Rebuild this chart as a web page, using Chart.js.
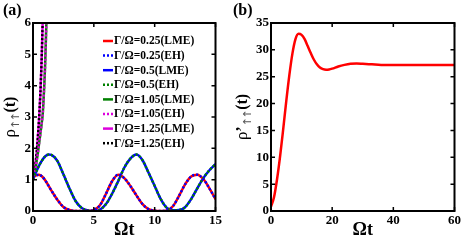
<!DOCTYPE html>
<html>
<head>
<meta charset="utf-8">
<script src="https://cdn.jsdelivr.net/npm/chart.js@4.4.1/dist/chart.umd.min.js"></script>
<style>
  html, body { margin: 0; padding: 0; background: #fff; }
  #wrap { position: relative; width: 463px; height: 241px; overflow: hidden; }
  canvas { position: absolute; top: 0; }
</style>
</head>
<body>
<div id="wrap">
  <canvas id="chartA" width="224" height="241" style="left:0px"></canvas>
  <canvas id="chartB" width="231" height="241" style="left:232px"></canvas>
</div>
<script>
// panel (a): rho_up,up(t) for several Gamma/Omega
const legendLabels = [
  'Γ/Ω=0.25(LME)', 'Γ/Ω=0.25(EH)',
  'Γ/Ω=0.5(LME)', 'Γ/Ω=0.5(EH)',
  'Γ/Ω=1.05(LME)', 'Γ/Ω=1.05(EH)',
  'Γ/Ω=1.25(LME)', 'Γ/Ω=1.25(EH)'
];

const tLow = [0, 0.25, 0.5, 0.75, 1, 1.5, 2, 2.5, 3, 3.5, 4, 4.5, 5, 5.5, 6, 6.5, 7, 7.5, 8, 8.5, 9, 9.5, 10, 10.5, 11, 11.5, 12, 12.5, 13, 13.5, 14, 14.5, 15];
const rhoLow = [1.08, 1.14, 1.16, 1.1, 0.98, 0.66, 0.36, 0.13, 0.03, 0, 0, 0, 0.03, 0.18, 0.55, 0.95, 1.16, 1.05, 0.8, 0.5, 0.22, 0.06, 0.01, 0, 0.02, 0.15, 0.48, 0.85, 1.1, 1.16, 1.02, 0.72, 0.38];

const tMid = [0, 0.5, 1, 1.3, 1.5, 2, 2.5, 3, 3.5, 4, 4.5, 5, 5.5, 6, 6.5, 7, 7.5, 8, 8.5, 9, 9.5, 10, 10.5, 11, 11.5, 12, 12.5, 13, 13.5, 14, 14.5, 15];
const rhoMid = [1.02, 1.45, 1.74, 1.8, 1.79, 1.6, 1.17, 0.72, 0.32, 0.1, 0.02, 0, 0.04, 0.22, 0.55, 0.95, 1.38, 1.67, 1.8, 1.62, 1.22, 0.8, 0.38, 0.1, 0.02, 0.03, 0.12, 0.38, 0.72, 1.05, 1.3, 1.5];

const tHi105 = [0, 0.1, 0.2, 0.3, 0.4, 0.5, 0.6, 0.7, 0.8, 0.9, 1.0, 1.1, 1.2];
const rhoHi105 = [1, 1.15, 1.35, 1.6, 1.85, 2.15, 2.45, 2.75, 3.1, 3.8, 4.7, 6.0, 7.1];

const tHi125 = [0, 0.1, 0.2, 0.3, 0.4, 0.5, 0.6, 0.7, 0.8, 0.9];
const rhoHi125 = [1, 1.25, 1.5, 1.85, 2.35, 2.95, 3.7, 4.7, 6.1, 7.6];

const xTicksA = [0, 5, 10, 15];
const yTicksA = [0, 1, 2, 3, 4, 5, 6];

// panel (b): rho'_up,up(t)
const tB = [0, 1, 2, 3, 4, 5, 6, 7, 8, 9, 10, 11, 12, 13, 14, 15, 16, 17, 18, 19, 20, 22, 24, 26, 28, 30, 33, 36, 40, 50, 60];
const rhoB = [0.8, 2.6, 6.0, 10.3, 15.3, 20.5, 25.3, 29.3, 32.0, 33.0, 32.8, 32.0, 30.7, 29.4, 28.2, 27.3, 26.7, 26.4, 26.3, 26.35, 26.5, 26.9, 27.2, 27.4, 27.45, 27.4, 27.3, 27.2, 27.2, 27.2, 27.2];

const xTicksB = [0, 20, 40, 60];
const yTicksB = [0, 5, 10, 15, 20, 25, 30, 35];

const serif = '"Liberation Serif", "DejaVu Serif", serif';

function pts(xs, ys) {
  return xs.map((x, i) => ({ x: x, y: ys[i] }));
}

function line(label, xs, ys, color, dotted) {
  return {
    label: label,
    data: pts(xs, ys),
    borderColor: color,
    backgroundColor: color,
    borderWidth: 2.5,
    borderDash: dotted ? [2, 2] : [],
    pointRadius: 0,
    fill: false,
    cubicInterpolationMode: 'monotone',
    clip: 0,
    order: dotted ? 0 : 1
  };
}

// frame, inward ticks, panel letter, y label, legend
const decorPlugin = {
  id: 'decor',
  afterDraw(chart, args, opts) {
    const ctx = chart.ctx;
    const { left, right, top, bottom } = chart.chartArea;
    const sx = chart.scales.x, sy = chart.scales.y;
    ctx.save();
    ctx.strokeStyle = '#000';
    ctx.lineWidth = 2;
    ctx.strokeRect(left, top, right - left, bottom - top);

    ctx.lineWidth = 1.5;
    ctx.beginPath();
    sx.ticks.forEach(t => {
      const p = sx.getPixelForValue(t.value);
      ctx.moveTo(p, bottom); ctx.lineTo(p, bottom - 4);
      ctx.moveTo(p, top); ctx.lineTo(p, top + 4);
    });
    sy.ticks.forEach(t => {
      const p = sy.getPixelForValue(t.value);
      ctx.moveTo(left, p); ctx.lineTo(left + 4, p);
      ctx.moveTo(right, p); ctx.lineTo(right - 4, p);
    });
    ctx.stroke();

    // panel letter
    ctx.fillStyle = '#000';
    ctx.font = 'bold 16px ' + serif;
    ctx.textBaseline = 'top';
    ctx.textAlign = 'left';
    ctx.fillText(opts.letter, opts.letterX, 3);

    // y axis label with subscript arrows
    const parts = [{ text: 'ρ', font: '17px ' + serif, dy: 0 }];
    if (opts.prime) parts.push({ text: '’', font: 'bold 16px ' + serif, dy: 0 });
    parts.push({ text: '↑', font: '11px "DejaVu Sans", sans-serif', dy: 5, color: '#555', kern: -1.5 });
    parts.push({ text: '↑', font: '11px "DejaVu Sans", sans-serif', dy: 5, color: '#555', kern: -0.5 });
    parts.push({ text: '(t)', font: 'bold 16px ' + serif, dy: 0 });
    let total = 0;
    parts.forEach(p => { ctx.font = p.font; p.w = ctx.measureText(p.text).width + (p.kern || 0); total += p.w; });
    ctx.translate(opts.yLabelX, (top + bottom) / 2);
    ctx.rotate(-Math.PI / 2);
    ctx.textBaseline = 'middle';
    let cx = -total / 2;
    parts.forEach(p => {
      ctx.font = p.font;
      ctx.fillStyle = p.color || '#000';
      ctx.fillText(p.text, cx, p.dy);
      cx += p.w;
    });
    ctx.setTransform(1, 0, 0, 1, 0, 0);

    // legend inside the plot
    if (opts.legend) {
      const x0 = opts.legendX, y0 = opts.legendY, step = 14.6;
      ctx.font = 'bold 11.5px ' + serif;
      ctx.textBaseline = 'middle';
      chart.data.datasets.forEach((ds, i) => {
        const y = y0 + i * step;
        ctx.strokeStyle = ds.borderColor;
        ctx.lineWidth = 2.5;
        ctx.setLineDash(ds.borderDash);
        ctx.beginPath();
        ctx.moveTo(x0, y); ctx.lineTo(x0 + 10, y);
        ctx.stroke();
        ctx.setLineDash([]);
        ctx.fillStyle = '#000';
        ctx.fillText(ds.label, x0 + 11, y + 0.5);
      });
    }
    ctx.restore();
  }
};

function axes(xMin, xMax, xTicks, yMin, yMax, yTicks, yWidth) {
  const tickFont = { family: serif, size: 13, weight: 'bold' };
  return {
    x: {
      type: 'linear', min: xMin, max: xMax,
      grid: { display: false, drawTicks: false },
      border: { display: false },
      afterBuildTicks: s => { s.ticks = xTicks.map(v => ({ value: v })); },
      afterFit: s => { s.height = 30; },
      ticks: { color: '#000', font: tickFont, padding: 2, maxRotation: 0 },
      title: { display: true, text: 'Ωt', color: '#000', font: { family: serif, size: 18, weight: 'bold' }, padding: 0 }
    },
    y: {
      type: 'linear', min: yMin, max: yMax,
      grid: { display: false, drawTicks: false },
      border: { display: false },
      afterBuildTicks: s => { s.ticks = yTicks.map(v => ({ value: v })); },
      afterFit: s => { s.width = yWidth; },
      ticks: { color: '#000', font: tickFont, padding: 2 }
    }
  };
}

new Chart(document.getElementById('chartA'), {
  type: 'line',
  data: {
    datasets: [
      line(legendLabels[0], tLow, rhoLow, '#ff0000', false),
      line(legendLabels[1], tLow, rhoLow, '#0000ff', true),
      line(legendLabels[2], tMid, rhoMid, '#0000ff', false),
      line(legendLabels[3], tMid, rhoMid, '#008000', true),
      line(legendLabels[4], tHi105, rhoHi105, '#008000', false),
      line(legendLabels[5], tHi105, rhoHi105, '#dd00dd', true),
      line(legendLabels[6], tHi125, rhoHi125, '#dd00dd', false),
      line(legendLabels[7], tHi125, rhoHi125, '#000000', true)
    ]
  },
  options: {
    responsive: false,
    animation: false,
    layout: { padding: { top: 23, right: 6, left: 0, bottom: 0 } },
    scales: axes(0, 15, xTicksA, 0, 6, yTicksA, 33),
    plugins: {
      legend: { display: false },
      tooltip: { enabled: false },
      decor: { letter: '(a)', letterX: 3, prime: false, yLabelX: 11, legend: true, legendX: 103, legendY: 41 }
    }
  },
  plugins: [decorPlugin]
});

new Chart(document.getElementById('chartB'), {
  type: 'line',
  data: {
    datasets: [
      line('ρ’', tB, rhoB, '#ff0000', false)
    ]
  },
  options: {
    responsive: false,
    animation: false,
    layout: { padding: { top: 23, right: 5, left: 0, bottom: 0 } },
    scales: axes(0, 60, xTicksB, 0, 35, yTicksB, 39),
    plugins: {
      legend: { display: false },
      tooltip: { enabled: false },
      decor: { letter: '(b)', letterX: 1, prime: true, yLabelX: 11, legend: false }
    }
  },
  plugins: [decorPlugin]
});
</script>
</body>
</html>
